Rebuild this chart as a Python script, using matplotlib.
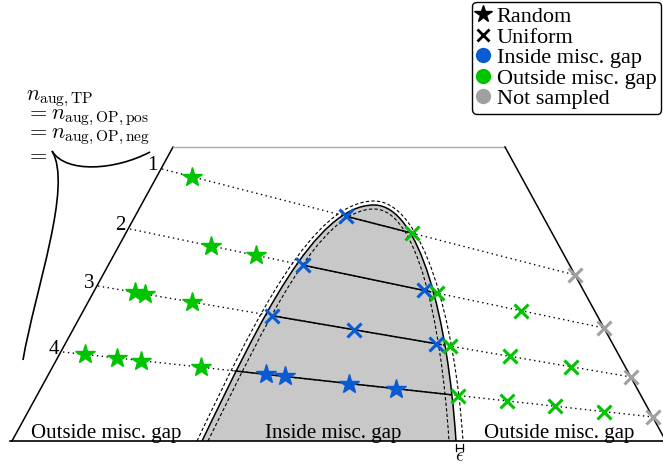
import numpy as np
import matplotlib
matplotlib.use("Agg")
import matplotlib.pyplot as plt
from matplotlib.path import Path
from matplotlib.patches import PathPatch
from matplotlib.lines import Line2D

plt.rcParams['font.family'] = ['Liberation Serif', 'DejaVu Serif']
plt.rcParams['mathtext.fontset'] = 'cm'

BLUE = '#0a5ad2'
GREEN = '#00c400'
GRAY = '#a0a0a0'

# tie lines: start on the left edge, end on the right edge (drawing units)
row_labels = ['1', '2', '3', '4']
row_start = [(162, 169), (130, 229), (98, 286), (63, 352)]
row_end = [(575, 275), (604, 328), (631, 377), (653, 417)]
# part of each tie line inside the gap
row_inside = [(346, 408), (303, 430), (272, 441), (235, 451)]

# sampled points along each tie line: x position, marker, colour
row1_x = [192, 346, 412, 575]
row1_m = ['*', 'x', 'x', 'x']
row1_c = [GREEN, BLUE, GREEN, GRAY]

row2_x = [211, 256, 303, 424, 437, 521, 604]
row2_m = ['*', '*', 'x', 'x', 'x', 'x', 'x']
row2_c = [GREEN, GREEN, BLUE, BLUE, GREEN, GREEN, GRAY]

row3_x = [135, 145, 192, 272, 354, 436, 450, 510, 571, 631]
row3_m = ['*', '*', '*', 'x', 'x', 'x', 'x', 'x', 'x', 'x']
row3_c = [GREEN, GREEN, GREEN, BLUE, BLUE, BLUE, GREEN, GREEN, GREEN, GRAY]

row4_x = [85, 117, 141, 201, 266, 285, 349, 396, 458, 507, 555, 604, 653]
row4_m = ['*'] * 8 + ['x'] * 5
row4_c = [GREEN] * 4 + [BLUE] * 4 + [GREEN] * 4 + [GRAY]

rows_x = [row1_x, row2_x, row3_x, row4_x]
rows_m = [row1_m, row2_m, row3_m, row4_m]
rows_c = [row1_c, row2_c, row3_c, row4_c]

# miscibility gap boundary (cubic bezier control points), and the +-eps curves
gap_solid = [(202, 441), (260, 321), (315, 205), (374, 205), (420, 205), (448, 320), (456, 441)]
gap_outer = [(197, 441), (255, 319), (313, 201), (374, 201), (423, 201), (455, 320), (463, 441)]
gap_inner = [(208, 441), (266, 323), (319, 209), (374, 209), (417, 209), (441, 320), (449, 441)]

bottom_labels = ['Outside misc. gap', 'Inside misc. gap', 'Outside misc. gap']
bottom_x = [106, 333, 559]

count_lines = [r'$n_{\mathrm{aug,TP}}$', r'$= n_{\mathrm{aug,OP,pos}}$',
               r'$= n_{\mathrm{aug,OP,neg}}$', r'$=$']
count_y = [100, 119, 138, 160]


def bez_path(pts, close=False):
    codes = [Path.MOVETO] + [Path.CURVE4] * (len(pts) - 1)
    if close:
        pts = pts + [pts[0]]
        codes = codes + [Path.CLOSEPOLY]
    return Path(pts, codes)


def on_line(p0, p1, x):
    x = np.asarray(x, dtype=float)
    return p0[1] + (x - p0[0]) * (p1[1] - p0[1]) / (p1[0] - p0[0])


fig = plt.figure(figsize=(6.63, 4.66), dpi=100)
ax = fig.add_axes([0, 0, 1, 1])
ax.set_xlim(0, 663)
ax.set_ylim(466, 0)
ax.axis('off')

# gap region
ax.add_patch(PathPatch(bez_path(gap_solid, close=True), facecolor='#c8c8c8', edgecolor='none', zorder=1))
ax.add_patch(PathPatch(bez_path(gap_solid), fill=False, edgecolor='k', lw=1.1, zorder=2))
for g in (gap_outer, gap_inner):
    ax.add_patch(PathPatch(bez_path(g), fill=False, edgecolor='k', lw=0.8,
                           linestyle=(0, (3, 2)), zorder=2))

# trapezoid outline
ax.plot([12, 173], [441, 147], color='k', lw=1.1, zorder=2)
ax.plot([173, 505], [147, 147], color='#aaaaaa', lw=1.0, zorder=2)
ax.plot([505, 668], [147, 445], color='k', lw=1.1, zorder=2, clip_on=False)
ax.plot([10, 663], [441, 441], color='k', lw=1.2, zorder=3)

# tie lines
for i in range(4):
    p0, p1 = row_start[i], row_end[i]
    ax.plot([p0[0], p1[0]], [p0[1], p1[1]], color='k', lw=1.0, linestyle=(0, (1, 2.5)), zorder=2)
    xi = np.array(row_inside[i])
    ax.plot(xi, on_line(p0, p1, xi), color='k', lw=1.1, zorder=3)
    ax.text(p0[0] - 4, p0[1] - 3, row_labels[i], ha='right', va='center', fontsize=15)
    ys = on_line(p0, p1, rows_x[i])
    for x, y, m, c in zip(rows_x[i], ys, rows_m[i], rows_c[i]):
        if m == '*':
            ax.plot(x, y, marker='*', ms=15, color=c, mec=c, ls='none', zorder=5)
        else:
            ax.plot(x, y, marker='x', ms=10, mew=2.2, color=c, ls='none', zorder=5)

for lab, x in zip(bottom_labels, bottom_x):
    ax.text(x, 438, lab, ha='center', va='baseline', fontsize=15)

# epsilon marker
ax.plot([456, 456], [444, 451], color='k', lw=0.9)
ax.plot([463, 463], [444, 451], color='k', lw=0.9)
ax.plot([456, 463], [447.5, 447.5], color='k', lw=0.9)
ax.text(460, 457, r'$\epsilon$', ha='center', va='center', fontsize=14)

# brace and the sample count label
ax.add_patch(PathPatch(bez_path([(52, 151), (66, 174), (116, 170), (150, 152)]),
                       fill=False, edgecolor='k', lw=1.2))
ax.add_patch(PathPatch(bez_path([(52, 151), (73, 186), (35, 290), (23, 360)]),
                       fill=False, edgecolor='k', lw=1.2))
for s, y in zip(count_lines, count_y):
    ax.text(26, y, s, fontsize=16, va='baseline')

handles = [
    Line2D([], [], marker='*', color='k', ls='none', ms=13),
    Line2D([], [], marker='x', color='k', ls='none', ms=8, mew=2),
    Line2D([], [], marker='o', color=BLUE, ls='none', ms=10),
    Line2D([], [], marker='o', color=GREEN, ls='none', ms=10),
    Line2D([], [], marker='o', color=GRAY, ls='none', ms=10),
]
labels = ['Random', 'Uniform', 'Inside misc. gap', 'Outside misc. gap', 'Not sampled']
leg = ax.legend(handles, labels, loc='upper right', bbox_to_anchor=(661 / 663, 1 - 2 / 466),
                bbox_transform=ax.transAxes, fontsize=16, frameon=True, fancybox=True,
                framealpha=1, edgecolor='k', handlelength=0.6, handletextpad=0.3,
                labelspacing=0.0, borderpad=0.2, borderaxespad=0)
leg.get_frame().set_linewidth(1.0)

fig.savefig('out.png', dpi=100)
